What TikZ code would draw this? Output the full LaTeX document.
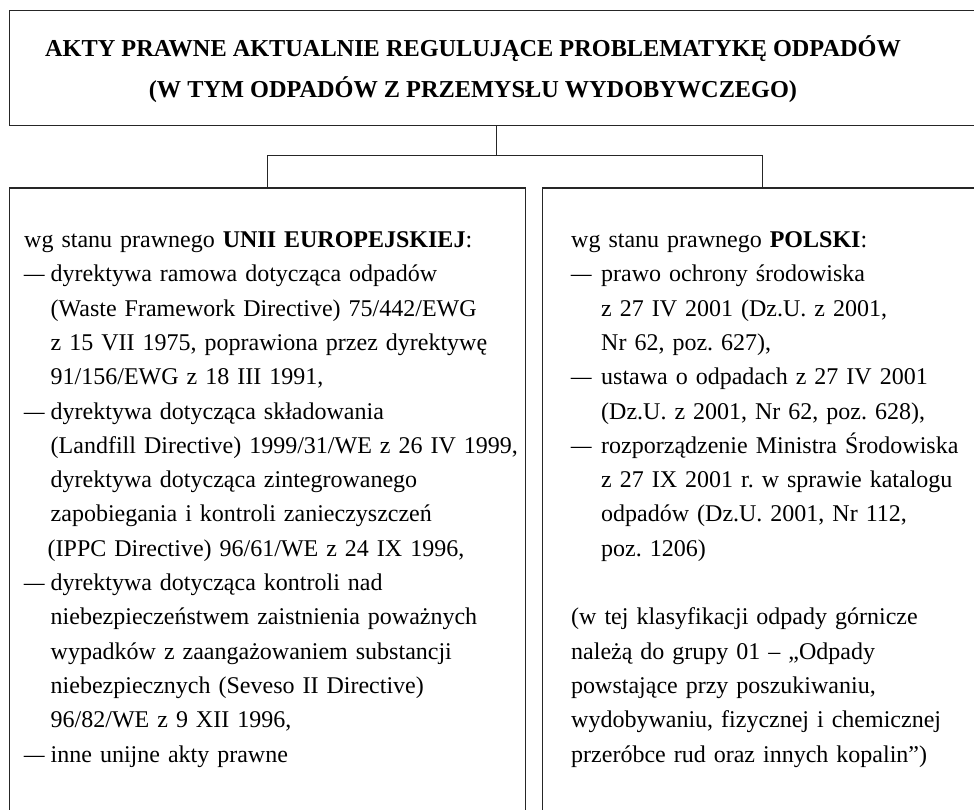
\documentclass[tikz,border=0pt]{standalone}
\usepackage{fontspec}
\usepackage{graphicx}
\setmainfont{Liberation Serif}[BoldFont={Liberation Serif Bold}]
\frenchspacing
\newcommand{\pdashL}{\makebox[26.5pt][l]{\scalebox{1.7}[1]{–}}}
\newcommand{\pindL}{\hspace*{26.5pt}}
\newcommand{\pdashR}{\makebox[30pt][l]{\scalebox{1.7}[1]{–}}}
\newcommand{\pindR}{\hspace*{30pt}}
\tikzset{
  frame/.style={draw=black!85, line width=1.3pt, inner sep=0pt},
  conn/.style={draw=black!85, line width=1.3pt},
  titleline/.style={anchor=base, inner sep=0pt, font=\fontsize{24.3}{41}\selectfont\bfseries},
  bodytext/.style={anchor=base west, inner sep=0pt, align=left, font=\fontsize{24}{34.3}\selectfont}
}
\begin{document}
\begin{tikzpicture}[x=1pt, y=-1pt]
\useasboundingbox (0,0) rectangle (974,810);
\clip (0,0) rectangle (974,810);
% boxes
\node[frame, minimum width=973.5pt, minimum height=115pt] (topbox) at (496.25,68) {};
\node[frame, minimum width=516.2pt, minimum height=642pt] (eubox) at (267.6,509) {};
\node[frame, minimum width=439.5pt, minimum height=642pt] (plbox) at (762.25,509) {};
% title
\node[titleline] (t1) at (473,56.5) {AKTY PRAWNE AKTUALNIE REGULUJĄCE PROBLEMATYKĘ ODPADÓW};
\node[titleline] (t2) at (473,97.5) {(W TYM ODPADÓW Z PRZEMYSŁU WYDOBYWCZEGO)};
% connectors
\coordinate (hub) at (496.25,155.5);
\draw[conn] (topbox.south) -- (hub);
\draw[conn] (eubox.north) |- (hub) -| (plbox.north);
% left text
\node[bodytext, text width=495pt] (eutext) at (24,247.6) {%
wg stanu prawnego \textbf{UNII EUROPEJSKIEJ}:\\
\pdashL dyrektywa ramowa dotycząca odpadów\\
\pindL (Waste Framework Directive) 75/442/EWG\\
\pindL z 15 VII 1975, poprawiona przez dyrektywę\\
\pindL 91/156/EWG z 18 III 1991,\\
\pdashL dyrektywa dotycząca składowania\\
\pindL (Landfill Directive) 1999/31/WE z 26 IV 1999,\\
\pindL dyrektywa dotycząca zintegrowanego\\
\pindL zapobiegania i kontroli zanieczyszczeń\\
\hspace*{23.5pt}(IPPC Directive) 96/61/WE z 24 IX 1996,\\
\pdashL dyrektywa dotycząca kontroli nad\\
\pindL niebezpieczeństwem zaistnienia poważnych\\
\pindL wypadków z zaangażowaniem substancji\\
\pindL niebezpiecznych (Seveso II Directive)\\
\pindL 96/82/WE z 9 XII 1996,\\
\pdashL inne unijne akty prawne};
% right text
\node[bodytext, text width=420pt] (pltext) at (571,247.6) {%
wg stanu prawnego \textbf{POLSKI}:\\
\pdashR prawo ochrony środowiska\\
\pindR z 27 IV 2001 (Dz.U. z 2001,\\
\pindR Nr 62, poz. 627),\\
\pdashR ustawa o odpadach z 27 IV 2001\\
\pindR (Dz.U. z 2001, Nr 62, poz. 628),\\
\pdashR rozporządzenie Ministra Środowiska\\
\pindR z 27 IX 2001 r. w sprawie katalogu\\
\pindR odpadów (Dz.U. 2001, Nr 112,\\
\pindR poz. 1206)\\
\mbox{}\\
(w tej klasyfikacji odpady górnicze\\
należą do grupy 01 – „Odpady\\
powstające przy poszukiwaniu,\\
wydobywaniu, fizycznej i chemicznej\\
przeróbce rud oraz innych kopalin”)};
\end{tikzpicture}
\end{document}
